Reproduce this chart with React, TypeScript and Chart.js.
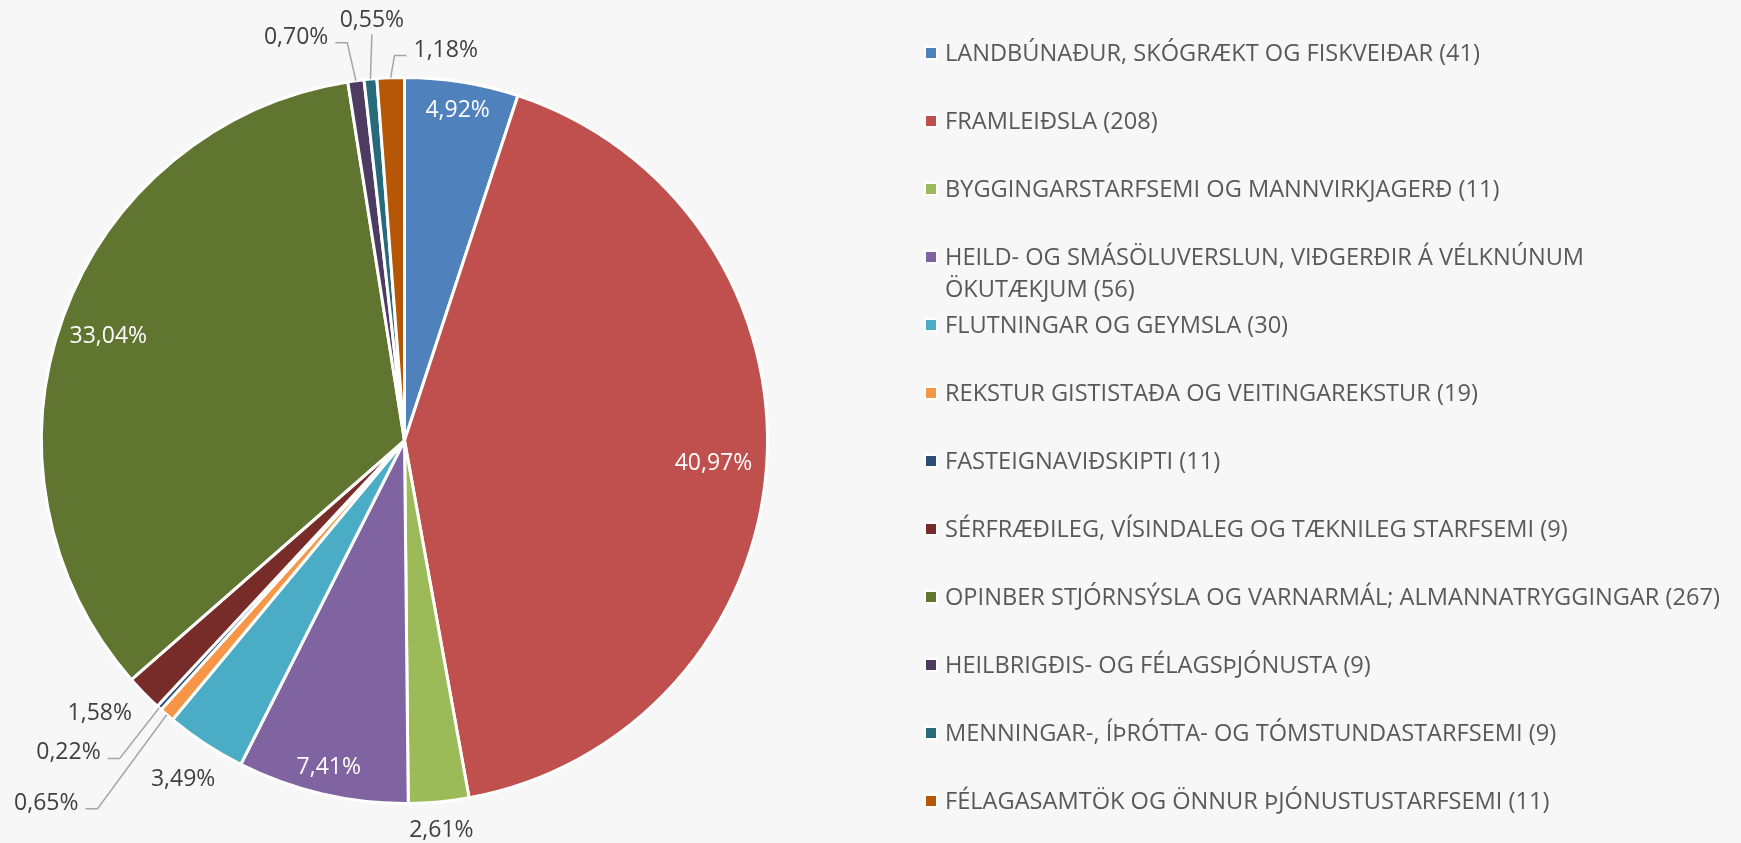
import React, { useEffect, useRef } from "react";
import { Chart, registerables } from "chart.js";

Chart.register(...registerables);

const categories = [
  "LANDBÚNAÐUR, SKÓGRÆKT OG FISKVEIÐAR",
  "FRAMLEIÐSLA",
  "BYGGINGARSTARFSEMI OG MANNVIRKJAGERÐ",
  "HEILD- OG SMÁSÖLUVERSLUN, VIÐGERÐIR Á VÉLKNÚNUM ÖKUTÆKJUM",
  "FLUTNINGAR OG GEYMSLA",
  "REKSTUR GISTISTAÐA OG VEITINGAREKSTUR",
  "FASTEIGNAVIÐSKIPTI",
  "SÉRFRÆÐILEG, VÍSINDALEG OG TÆKNILEG STARFSEMI",
  "OPINBER STJÓRNSÝSLA OG VARNARMÁL; ALMANNATRYGGINGAR",
  "HEILBRIGÐIS- OG FÉLAGSÞJÓNUSTA",
  "MENNINGAR-, ÍÞRÓTTA- OG TÓMSTUNDASTARFSEMI",
  "FÉLAGASAMTÖK OG ÖNNUR ÞJÓNUSTUSTARFSEMI",
];

const counts = [41, 208, 11, 56, 30, 19, 11, 9, 267, 9, 9, 11];

const shares = [4.92, 40.97, 2.61, 7.41, 3.49, 0.65, 0.22, 1.58, 33.04, 0.7, 0.55, 1.18];

const colors = [
  "#4F81BD",
  "#C0504D",
  "#9BBB59",
  "#8064A2",
  "#4BACC6",
  "#F79646",
  "#2C4D75",
  "#772C2A",
  "#5F7530",
  "#4D3B62",
  "#276A7C",
  "#B65708",
];

// manual label nudges (pixels) applied to default label positions, like Excel's moved labels
const labelNudges: [number, number][] = [
  [0, 0], [0, 0], [0, 0], [0, 0], [0, 0],
  [-92, 54], [-61, 11], [-12, -13], [-5, 0],
  [-56, -17], [4, -33], [56, -4],
];

const FONT = '"Open Sans", "DejaVu Sans", sans-serif';
const LABEL_SIZE = 23;
const LEGEND_SIZE = 23.6;
const LEGEND_X = 945;
const LEGEND_TOP = 53;
const LEGEND_STEP = 68;
const LEGEND_LINE = 32;
const LEGEND_MAX_W = 780;

function fmt(v: number) {
  return v.toFixed(2).replace(".", ",") + "%";
}

function wrap(ctx: CanvasRenderingContext2D, text: string, maxW: number) {
  const words = text.split(" ");
  const lines: string[] = [];
  let cur = "";
  for (const w of words) {
    const t = cur ? cur + " " + w : w;
    if (ctx.measureText(t).width > maxW && cur) {
      lines.push(cur);
      cur = w;
    } else cur = t;
  }
  if (cur) lines.push(cur);
  return lines;
}

const labelPlugin = {
  id: "sliceLabels",
  afterDatasetsDraw(chart: any) {
    const ctx: CanvasRenderingContext2D = chart.ctx;
    const meta = chart.getDatasetMeta(0);
    ctx.save();
    ctx.font = `${LABEL_SIZE}px ${FONT}`;
    ctx.textAlign = "center";
    ctx.textBaseline = "alphabetic";
    const capH = LABEL_SIZE * 0.714;
    meta.data.forEach((arc: any, i: number) => {
      const p = arc.getProps(["x", "y", "startAngle", "endAngle", "outerRadius"], true);
      const mid = (p.startAngle + p.endAngle) / 2;
      const ux = Math.cos(mid);
      const uy = Math.sin(mid);
      const text = fmt(shares[i]);
      const hw = ctx.measureText(text).width / 2;
      const hh = capH / 2;
      const proj = Math.abs(ux) * hw + Math.abs(uy) * hh;
      const inside = shares[i] >= 4;
      const d = inside ? p.outerRadius - 14 - proj : p.outerRadius + 16 + proj;
      const [nx, ny] = labelNudges[i];
      const cx = p.x + ux * d + nx;
      const cy = p.y + uy * d + ny;
      if (!inside && Math.hypot(nx, ny) > 20) {
        const ax = p.x + ux * p.outerRadius;
        const ay = p.y + uy * p.outerRadius;
        const x1 = cx - hw;
        const x2 = cx + hw;
        const yb = cy + hh;
        const yt = cy - hh;
        ctx.beginPath();
        ctx.strokeStyle = "#A6A6A6";
        ctx.lineWidth = 1.5;
        if (ax > x2 + 12) {
          ctx.moveTo(x2 + 7, yb - 1);
          ctx.lineTo(x2 + 19, yb - 1);
          ctx.lineTo(ax, ay);
        } else if (ax < x1 - 12) {
          ctx.moveTo(x1 - 7, yb - 1);
          ctx.lineTo(x1 - 19, yb - 1);
          ctx.lineTo(ax, ay);
        } else {
          ctx.moveTo(cx, ay > cy ? yb + 7 : yt - 7);
          ctx.lineTo(ax, ay);
        }
        ctx.stroke();
      }
      ctx.fillStyle = inside ? "#FFFFFF" : "#404040";
      ctx.fillText(text, cx, cy + capH / 2);
    });
    ctx.restore();
  },
};

const legendPlugin = {
  id: "sideLegend",
  afterDraw(chart: any) {
    const ctx: CanvasRenderingContext2D = chart.ctx;
    ctx.save();
    ctx.font = `${LEGEND_SIZE}px ${FONT}`;
    ctx.textAlign = "left";
    ctx.textBaseline = "alphabetic";
    const capH = LEGEND_SIZE * 0.714;
    categories.forEach((name, i) => {
      const text = `${name} (${counts[i]})`;
      const lines = wrap(ctx, text, LEGEND_MAX_W);
      const y = LEGEND_TOP + i * LEGEND_STEP;
      ctx.fillStyle = "#FFFFFF";
      ctx.fillRect(924, y - 7, 14, 14);
      ctx.fillStyle = colors[i];
      ctx.fillRect(926, y - 5, 10, 10);
      ctx.fillStyle = "#595959";
      lines.forEach((ln, j) => ctx.fillText(ln, LEGEND_X, y + capH / 2 + j * LEGEND_LINE));
    });
    ctx.restore();
  },
};

export default function App() {
  const ref = useRef<HTMLCanvasElement | null>(null);
  useEffect(() => {
    if (!ref.current) return;
    const chart = new Chart(ref.current, {
      type: "pie",
      data: {
        labels: categories.map((c, i) => `${c} (${counts[i]})`),
        datasets: [
          {
            data: shares,
            backgroundColor: colors,
            borderColor: "#FFFFFF",
            borderWidth: 3,
          },
        ],
      },
      options: {
        animation: false,
        responsive: true,
        maintainAspectRatio: false,
        layout: { padding: { left: 40, top: 76, right: 972, bottom: 38 } },
        plugins: {
          legend: { display: false },
          tooltip: { enabled: false },
        },
      },
      plugins: [labelPlugin, legendPlugin],
    });
    return () => chart.destroy();
  }, []);
  return (
    <div
      style={{
        position: "fixed",
        left: 0,
        top: 0,
        width: 1741,
        height: 843,
        background: "#F8F7F7",
      }}
    >
      <canvas ref={ref} />
    </div>
  );
}
